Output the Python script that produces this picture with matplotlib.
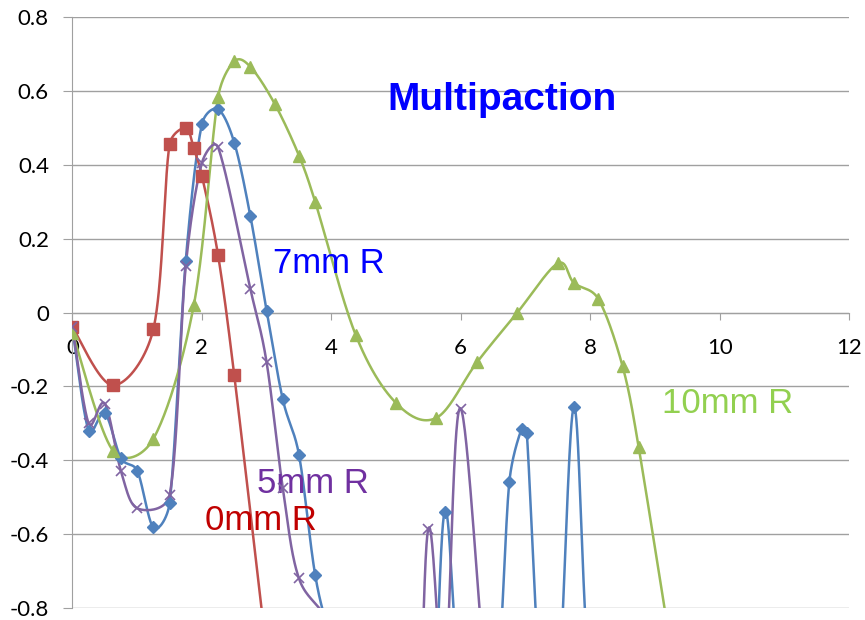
import numpy as np
import matplotlib
matplotlib.use("Agg")
import matplotlib.pyplot as plt

# datos (los puntos fuera de rango solo dan forma a la curva)
x_0mm = [0, 0.625, 1.25, 1.5, 1.75, 1.875, 2.0, 2.25, 2.5, 3.0]
y_0mm = [-0.04, -0.197, -0.045, 0.455, 0.50, 0.445, 0.37, 0.155, -0.17, -0.92]

x_5mm = [0, 0.25, 0.5, 0.75, 1.0, 1.5, 1.75, 2.0, 2.25, 2.75, 3.0, 3.25, 3.5, 4.0,
         4.5, 5.25, 5.5, 5.75, 6.0, 6.5, 7.0]
y_5mm = [-0.04, -0.30, -0.247, -0.43, -0.53, -0.495, 0.125, 0.405, 0.447, 0.063, -0.135, -0.475, -0.72, -0.86,
         -1.3, -1.3, -0.585, -1.0, -0.26, -1.2, -1.4]

x_7mm = [0, 0.25, 0.5, 0.75, 1.0, 1.25, 1.5, 1.75, 2.0, 2.25, 2.5, 2.75, 3.0, 3.25, 3.5, 3.75, 4.0,
         4.5, 5.0, 5.5, 5.75, 6.0, 6.5, 6.75, 6.94, 7.02, 7.25, 7.5, 7.75, 8.0, 8.5]
y_7mm = [-0.045, -0.32, -0.273, -0.395, -0.428, -0.582, -0.517, 0.14, 0.51, 0.55, 0.46, 0.26, 0.005, -0.235, -0.385, -0.71, -0.9,
         -1.3, -1.3, -1.3, -0.54, -1.0, -1.1, -0.46, -0.315, -0.325, -1.05, -1.05, -0.255, -1.0, -1.3]

x_10mm = [0, 0.625, 1.25, 1.875, 2.25, 2.5, 2.75, 3.125, 3.5, 3.75, 4.375, 5.0, 5.625, 6.25,
          6.875, 7.5, 7.75, 8.125, 8.5, 8.75, 9.375]
y_10mm = [-0.055, -0.374, -0.342, 0.02, 0.583, 0.68, 0.665, 0.565, 0.425, 0.30, -0.06, -0.245, -0.285, -0.135,
          0.0, 0.133, 0.08, 0.037, -0.145, -0.365, -1.05]

# escala aproximada en pixeles por unidad, para que el suavizado se calcule "en pantalla"
ESC = np.array([64.7, 369.0])


def suavizar(xs, ys, n=40):
    # curva bezier tipo catmull-rom, como el "suavizado" de excel,
    # con los puntos de control limitados en tramos cortos
    P = np.column_stack([xs, ys]).astype(float) * ESC
    t = np.linspace(0, 1, n)[:, None]
    trozos = []
    for i in range(len(P) - 1):
        p0 = P[i - 1] if i > 0 else P[i]
        p1 = P[i]
        p2 = P[i + 1]
        p3 = P[i + 2] if i + 2 < len(P) else P[i + 1]
        d = np.hypot(*(p2 - p1))
        v1 = (p2 - p0) / 6
        v2 = (p3 - p1) / 6
        lim = 0.45 * d
        if np.hypot(*v1) > lim:
            v1 = v1 * lim / np.hypot(*v1)
        if np.hypot(*v2) > lim:
            v2 = v2 * lim / np.hypot(*v2)
        c1 = p1 + v1
        c2 = p2 - v2
        B = (1 - t)**3 * p1 + 3 * (1 - t)**2 * t * c1 + 3 * (1 - t) * t**2 * c2 + t**3 * p2
        trozos.append(B)
    curva = np.vstack(trozos) / ESC
    return curva[:, 0], curva[:, 1]


fig = plt.figure(figsize=(8.65, 6.2), dpi=100)
ax = fig.add_axes([0.0838, 0.01935, 0.8977, 0.9532])

series = [
    (x_7mm, y_7mm, "#4F81BD", "D", 6, 1.0),
    (x_0mm, y_0mm, "#C0504D", "s", 8, 1.0),
    (x_10mm, y_10mm, "#9BBB59", "^", 8, 1.0),
    (x_5mm, y_5mm, "#8064A2", "x", 7, 1.2),
]
for xs, ys, color, marker, ms, mew in series:
    cx, cy = suavizar(xs, ys)
    ax.plot(cx, cy, color=color, lw=1.8, zorder=3)
    xs = np.array(xs)
    ys = np.array(ys)
    dentro = (ys >= -0.8) & (ys <= 0.8)
    ax.plot(xs[dentro], ys[dentro], ls="none", marker=marker, ms=ms, color=color,
            mew=mew, zorder=4)

ax.set_xlim(0, 12)
ax.set_ylim(-0.8, 0.8)

gris = "#A0A0A0"
ax.set_yticks(np.arange(-0.8, 0.81, 0.2))
ax.set_yticklabels(["-0.8", "-0.6", "-0.4", "-0.2", "0", "0.2", "0.4", "0.6", "0.8"])
ax.set_xticks([0, 2, 4, 6, 8, 10, 12])
ax.grid(axis="y", color=gris, lw=1.0, zorder=0)
ax.set_axisbelow(True)

for lado in ["top", "right"]:
    ax.spines[lado].set_visible(False)
ax.spines["left"].set_color(gris)
ax.spines["bottom"].set_color(gris)
ax.spines["bottom"].set_position(("data", 0))

ax.tick_params(axis="y", length=6.5, color=gris, pad=10.5, labelsize=16)
ax.tick_params(axis="x", length=5, color=gris, pad=13, labelsize=16)
for lab in ax.get_xticklabels() + ax.get_yticklabels():
    lab.set_fontfamily("Lato")

ax.text(6.64, 0.547, "Multipaction", color="#0000FF", fontsize=28, fontweight="bold",
        family="Liberation Sans", ha="center", va="baseline")
ax.text(3.10, 0.108, "7mm R", color="#0000FF", fontsize=25, family="Liberation Sans", va="baseline")
ax.text(2.85, -0.49, "5mm R", color="#7030A0", fontsize=25, family="Liberation Sans", va="baseline")
ax.text(2.05, -0.59, "0mm R", color="#C00000", fontsize=25, family="Liberation Sans", va="baseline")
ax.text(9.11, -0.271, "10mm R", color="#92D050", fontsize=25, family="Liberation Sans", va="baseline")

fig.savefig("out.png", dpi=100)
